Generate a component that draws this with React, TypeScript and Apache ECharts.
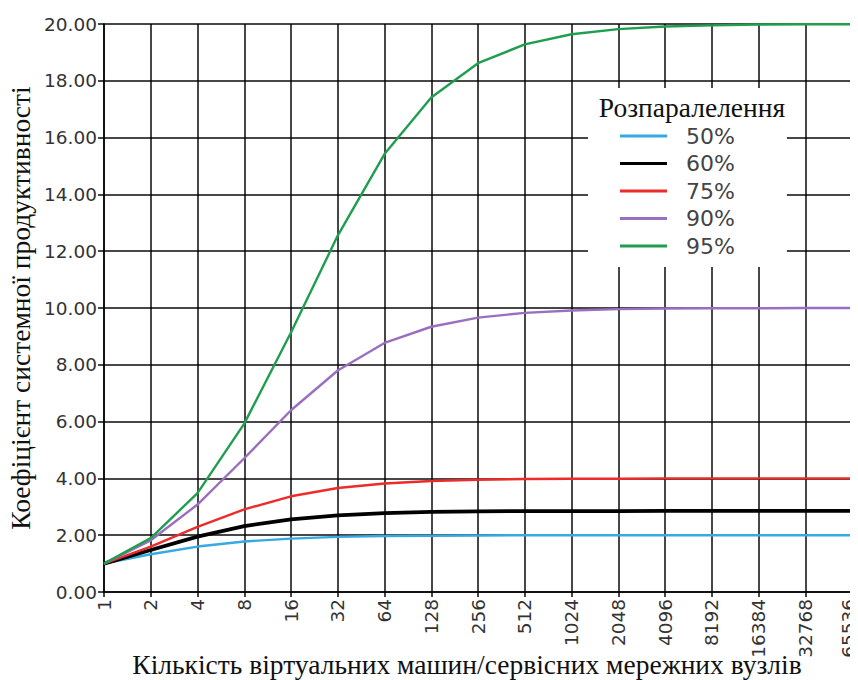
import React, { useEffect, useRef } from "react";
import * as echarts from "echarts";

const categories = ["1", "2", "4", "8", "16", "32", "64", "128", "256", "512", "1024", "2048", "4096", "8192", "16384", "32768", "65536"];

const s50 = [1.0, 1.33, 1.6, 1.78, 1.88, 1.94, 1.97, 1.98, 1.99, 2.0, 2.0, 2.0, 2.0, 2.0, 2.0, 2.0, 2.0];
const s60 = [1.0, 1.48, 1.95, 2.32, 2.56, 2.7, 2.78, 2.82, 2.84, 2.85, 2.85, 2.85, 2.86, 2.86, 2.86, 2.86, 2.86];
const s75 = [1.0, 1.6, 2.29, 2.91, 3.37, 3.66, 3.82, 3.91, 3.95, 3.98, 3.99, 3.99, 4.0, 4.0, 4.0, 4.0, 4.0];
const s90 = [1.0, 1.82, 3.08, 4.71, 6.4, 7.8, 8.77, 9.34, 9.66, 9.83, 9.91, 9.96, 9.98, 9.99, 9.99, 10.0, 10.0];
const s95 = [1.0, 1.9, 3.48, 5.93, 9.14, 12.55, 15.42, 17.41, 18.62, 19.28, 19.64, 19.82, 19.91, 19.95, 19.98, 19.99, 19.99];

const seriesNames = ["50%", "60%", "75%", "90%", "95%"];
const seriesColors = ["#35a9e2", "#000000", "#ee2b2b", "#9a6fc0", "#1f9e4f"];
const seriesWidths = [2.4, 3.8, 2.4, 2.4, 2.4];
const seriesData = [s50, s60, s75, s90, s95];

const yTitle = "Коефіцієнт системної продуктивності";
const xTitle = "Кількість віртуальних машин/сервісних мережних вузлів";
const legendTitle = "Розпаралелення";

export default function App() {
  const ref = useRef<HTMLDivElement>(null);
  useEffect(() => {
    if (!ref.current) return;
    const chart = echarts.init(ref.current, null, { renderer: "svg" });
    const gridColor = "rgba(0,0,0,0.72)";
    const lastCat = categories[categories.length - 1];
    chart.setOption({
      animation: false,
      backgroundColor: "#ffffff",
      grid: { left: 104, right: 6, top: 24, bottom: 88, containLabel: false, outerBoundsMode: "none" },
      xAxis: {
        type: "category",
        data: categories,
        boundaryGap: false,
        name: xTitle,
        nameLocation: "middle",
        nameGap: 58,
        nameMoveOverlap: false,
        nameTextStyle: { fontFamily: "Liberation Serif", fontSize: 27.5, color: "#111", padding: [0, 22, 0, 0] },
        axisLine: { show: true, lineStyle: { color: gridColor, width: 2 } },
        axisTick: { show: true, length: 5, lineStyle: { color: gridColor, width: 2 } },
        axisLabel: {
          rotate: 90,
          margin: 7,
          fontFamily: "DejaVu Sans",
          fontSize: 18.5,
          color: "#333",
          formatter: (v: string) => (v === lastCat ? "{last|" + v + "}" : v),
          rich: { last: { fontFamily: "DejaVu Sans", fontSize: 18.5, color: "#333", padding: [0, 0, 7, 0] } },
        },
        splitLine: { show: true, lineStyle: { color: gridColor, width: 2 } },
      },
      yAxis: {
        type: "value",
        min: 0,
        max: 20,
        interval: 2,
        name: yTitle,
        nameLocation: "middle",
        nameGap: 70,
        nameMoveOverlap: false,
        nameTextStyle: { fontFamily: "Liberation Serif", fontSize: 27.5, color: "#111" },
        axisLine: { show: true, lineStyle: { color: gridColor, width: 2 } },
        axisTick: { show: true, length: 6, lineStyle: { color: gridColor, width: 2 } },
        axisLabel: { margin: 7, fontFamily: "DejaVu Sans", fontSize: 18.5, color: "#333", formatter: (v: number) => v.toFixed(2) },
        splitLine: { show: true, lineStyle: { color: gridColor, width: 2 } },
      },
      legend: {
        orient: "vertical",
        left: 588,
        top: 88,
        backgroundColor: "#ffffff",
        padding: [37, 52, 10, 32],
        itemGap: 5.5,
        itemWidth: 47,
        itemHeight: 3,
        icon: "rect",
        textStyle: { fontFamily: "DejaVu Sans", fontSize: 22, color: "#444", padding: [0, 0, 0, 14], lineHeight: 22 },
        data: seriesNames,
      },
      graphic: [
        {
          type: "text",
          z: 100,
          x: 692,
          y: 107,
          style: {
            text: legendTitle,
            align: "center",
            verticalAlign: "middle",
            fontFamily: "Liberation Serif",
            fontSize: 27.5,
            fill: "#111",
          },
        },
      ],
      series: seriesNames.map((name, i) => ({
        name,
        type: "line",
        data: seriesData[i],
        showSymbol: false,
        symbol: "none",
        smooth: false,
        lineStyle: { color: seriesColors[i], width: seriesWidths[i] },
        itemStyle: { color: seriesColors[i] },
      })),
    });
    return () => chart.dispose();
  }, []);
  return <div ref={ref} style={{ width: 858, height: 680, marginLeft: -8, marginTop: -8 }} />;
}
